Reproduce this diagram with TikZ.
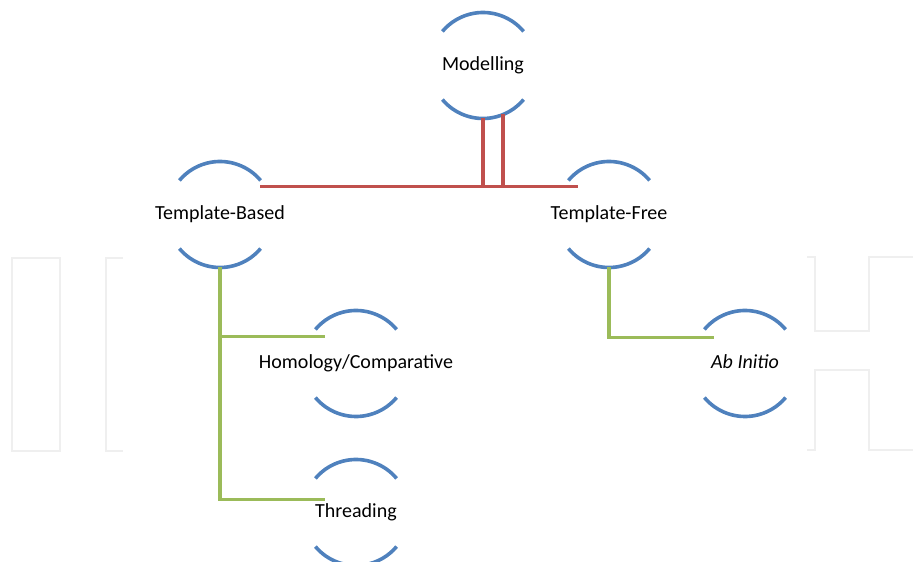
\documentclass[tikz,border=0pt]{standalone}
\usepackage{fontspec}
\setmainfont{Carlito}
\usetikzlibrary{positioning, calc}

\definecolor{arcblue}{HTML}{4F81BD}
\definecolor{linkred}{HTML}{C0504D}
\definecolor{linkgreen}{HTML}{9BBB59}
\definecolor{logogray}{HTML}{EFEFEF}

\begin{document}
\begin{tikzpicture}
[x=1pt,y=1pt,on grid,node distance=149pt,
 topic/.style={inner sep=0pt,text height=14pt,text depth=4pt,
               font=\fontsize{20}{24}\selectfont,text=black},
 arcline/.style={arcblue,line width=3.6pt},
 redlink/.style={linkred,line width=3.3pt},
 greenlink/.style={linkgreen,line width=3.4pt},
 logoline/.style={logogray,line width=1.6pt}]
\useasboundingbox (0,0) rectangle (913,562);

% faint logo in the back
\draw[logoline] (12,304) rectangle (60,111);
\draw[logoline] (123,304) -- (106,304) -- (106,111) -- (123,111);
\draw[logoline] (807,305) -- (815,305) -- (815,231) -- (869,231) -- (869,305) -- (913,305);
\draw[logoline] (807,112) -- (815,112) -- (815,192) -- (869,192) -- (869,112) -- (913,112);

\node[topic] (model) at (483,496.5) {Modelling};
\node[topic, below left=149pt and 263pt of model] (tbased) {Template-Based};
\node[topic, below right=149pt and 126pt of model] (tfree) {Template-Free};
\node[topic, below right=149pt and 136pt of tbased] (homcomp) {Homology/Comparative};
\node[topic, below=of homcomp] (thread) {Threading};
\node[topic, below right=149pt and 136pt of tfree] (abinit) {\itshape Ab Initio};

\foreach \n in {model,tbased,tfree,homcomp,abinit,thread}{
  \draw[arcline] ($(\n)+(40:53pt)$) arc[start angle=40,end angle=140,radius=53pt];
  \draw[arcline] ($(\n)+(220:53pt)$) arc[start angle=220,end angle=320,radius=53pt];
}

\draw[redlink] ($(model)+(0,-53pt)$) |- ($(tfree)+(-31pt,28pt)$);
\draw[redlink] ($(model)+(20pt,-49pt)$) |- ($(tbased)+(40pt,28pt)$);

\draw[greenlink] ($(tbased)+(0,-53pt)$) |- ($(thread)+(-31pt,13pt)$);
\draw[greenlink] ($(tbased)+(0,-53pt)$) |- ($(homcomp)+(-31pt,27pt)$);
\draw[greenlink] ($(tfree)+(0,-53pt)$) |- ($(abinit)+(-31pt,26pt)$);

\end{tikzpicture}
\end{document}
